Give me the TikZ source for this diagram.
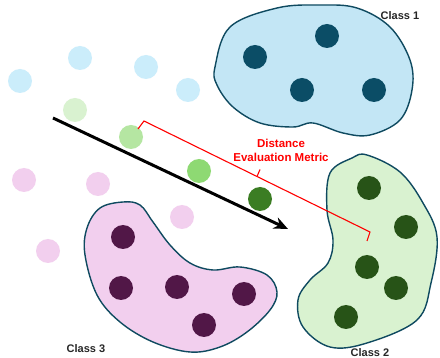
\documentclass[tikz,border=0pt]{standalone}
\usepackage{fontspec}
\setmainfont{Liberation Sans}
\usetikzlibrary{arrows.meta}
\definecolor{bluefill}{HTML}{C3E6F5}
\definecolor{bluelight}{HTML}{CBEDFB}
\definecolor{bluedark}{HTML}{0B4D66}
\definecolor{outline}{HTML}{0F4A60}
\definecolor{greenfill}{HTML}{D9F2D0}
\definecolor{greendark}{HTML}{275317}
\definecolor{greenb}{HTML}{B5E6A2}
\definecolor{greenc}{HTML}{8ED973}
\definecolor{greend}{HTML}{3B7D23}
\definecolor{pinkfill}{HTML}{F2CFEE}
\definecolor{purpdark}{HTML}{511747}
\definecolor{redline}{HTML}{FF0000}
\begin{document}
\begin{tikzpicture}[x=1pt,y=-1pt,
  blob/.style={draw=outline,line width=1.4pt},
  pt/.style={circle,inner sep=0pt,minimum size=24pt},
  lbl/.style={font=\fontsize{11}{13}\selectfont\bfseries,text=black!85},
  redlbl/.style={font=\fontsize{11.5}{14}\selectfont\bfseries,text=redline,align=center}]
\useasboundingbox (0,0) rectangle (440,358);
\fill[white] (0,0) rectangle (440,358);
% Class 1 blob
\draw[blob,fill=bluefill] plot[smooth cycle,tension=0.6] coordinates {
 (215,67) (230,27) (277,8) (320,5) (357,8) (390,27) (410,60) (412,90)
 (400,120) (370,135) (343,133) (313,123) (293,127) (260,123) (233,107) (217,85)};
% Class 2 blob
\draw[blob,fill=greenfill] plot[smooth cycle,tension=0.6] coordinates {
 (330,173) (352,158) (367,155) (400,172) (423,203) (437,237) (431,283) (417,320)
 (367,343) (330,347) (303,327) (298,300) (310,280) (328,263) (333,240) (327,210)};
% Class 3 blob
\draw[blob,fill=pinkfill] plot[smooth cycle,tension=0.6] coordinates {
 (100,208) (123,202) (140,205) (153,222) (170,245) (190,263) (213,270) (240,267)
 (267,275) (277,292) (270,310) (247,332) (220,347) (190,352) (153,342) (120,322)
 (97,295) (85,255) (87,228)};
% scattered points
\node[pt,fill=bluelight] (b1) at (20,81) {};
\node[pt,fill=bluelight] (b2) at (80,58) {};
\node[pt,fill=bluelight] (b3) at (146,67) {};
\node[pt,fill=bluelight] (b4) at (188,90) {};
\node[pt,fill=greenfill] (g1) at (75,110) {};
\node[pt,fill=greenb] (g2) at (131,137) {};
\node[pt,fill=greenc] (g3) at (199,171) {};
\node[pt,fill=greend] (g4) at (260,199) {};
\node[pt,fill=pinkfill] (p1) at (24,180) {};
\node[pt,fill=pinkfill] (p2) at (98,184) {};
\node[pt,fill=pinkfill] (p3) at (182,217) {};
\node[pt,fill=pinkfill] (p4) at (48,251) {};
% class 1 members
\node[pt,fill=bluedark] (c11) at (255,57) {};
\node[pt,fill=bluedark] (c12) at (327,36) {};
\node[pt,fill=bluedark] (c13) at (302,90) {};
\node[pt,fill=bluedark] (c14) at (374,90) {};
% class 2 members
\node[pt,fill=greendark] (c21) at (369,188) {};
\node[pt,fill=greendark] (c22) at (406,227) {};
\node[pt,fill=greendark] (c23) at (367,267) {};
\node[pt,fill=greendark] (c24) at (396,288) {};
\node[pt,fill=greendark] (c25) at (346,317) {};
% class 3 members
\node[pt,fill=purpdark] (c31) at (123,237) {};
\node[pt,fill=purpdark] (c32) at (121,288) {};
\node[pt,fill=purpdark] (c33) at (177,287) {};
\node[pt,fill=purpdark] (c34) at (204,325) {};
\node[pt,fill=purpdark] (c35) at (244,294) {};
% arrow
\coordinate (as) at (53,118);
\coordinate (ae) at (288,229);
\draw[line width=3pt,-{Stealth[length=14pt,width=12pt]}] (as) -- (ae);
% red bracket
\coordinate (r1) at (138,129);
\coordinate (r2) at (144,121);
\coordinate (r3) at (370,232);
\coordinate (r4) at (367,241);
\draw[redline,line width=1.1pt] (r1) -- (r2) -- (r3) -- (r4);
\coordinate (tm) at (257,176.5);
\coordinate (tt) at (260,169.5);
\draw[redline,line width=1.1pt] (tm) -- (tt);
% labels
\node[redlbl] (dist) at (281,150) {Distance\\Evaluation Metric};
\node[lbl] (l1) at (400,16) {Class 1};
\node[lbl] (l2) at (370,353) {Class 2};
\node[lbl] (l3) at (86,349) {Class 3};
\end{tikzpicture}
\end{document}
